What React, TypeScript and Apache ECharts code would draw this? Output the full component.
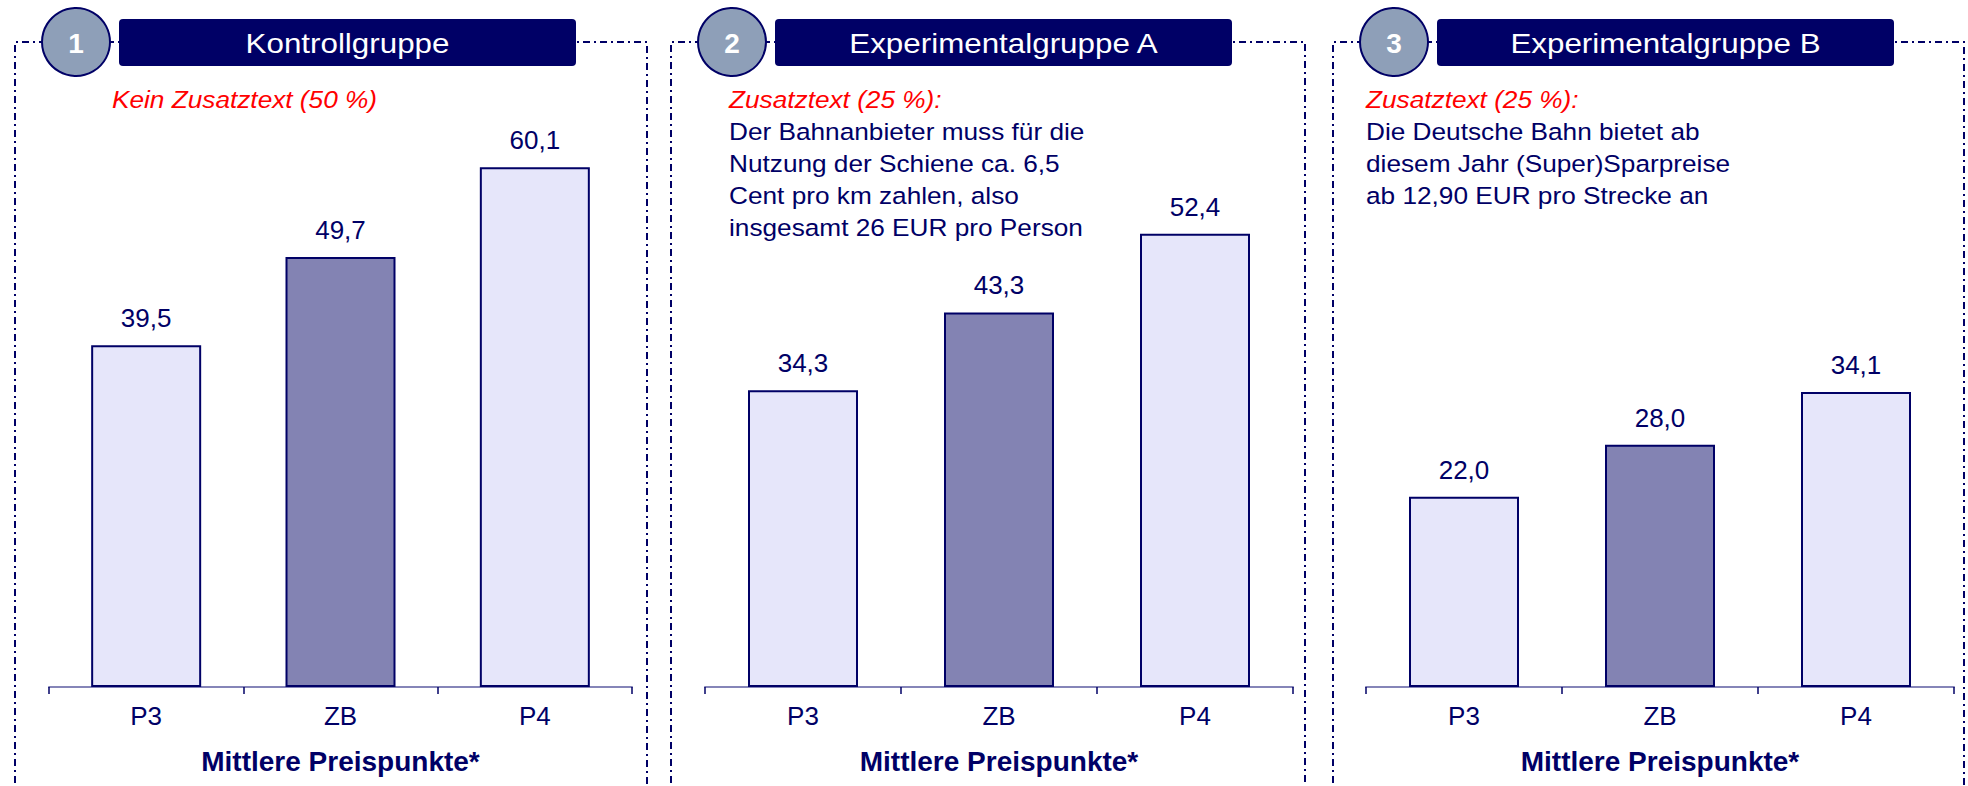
import React, { useEffect, useRef } from "react";
import * as echarts from "echarts";

// ---- data ----
const categories = ["P3", "ZB", "P4"];
const kontrollValues = [39.5, 49.7, 60.1];
const gruppeAValues = [34.3, 43.3, 52.4];
const gruppeBValues = [22.0, 28.0, 34.1];
const panelNumbers = ["1", "2", "3"];
const panelTitles = ["Kontrollgruppe", "Experimentalgruppe A", "Experimentalgruppe B"];
const redNotes = ["Kein Zusatztext (50 %)", "Zusatztext (25 %):", "Zusatztext (25 %):"];
const noteLinesKontroll: string[] = [];
const noteLinesA = [
  "Der Bahnanbieter muss für die",
  "Nutzung der Schiene ca. 6,5",
  "Cent pro km zahlen, also",
  "insgesamt 26 EUR pro Person",
];
const noteLinesB = [
  "Die Deutsche Bahn bietet ab",
  "diesem Jahr (Super)Sparpreise",
  "ab 12,90 EUR pro Strecke an",
];
const axisName = "Mittlere Preispunkte*";
const yMax = 70;

const seriesValues = [kontrollValues, gruppeAValues, gruppeBValues];
const noteLines = [noteLinesKontroll, noteLinesA, noteLinesB];

// ---- styles / layout ----
const NAVY = "#000066";
const RED = "#FF0000";
const LIGHT = "#E6E6FA";
const DARK = "#8383B3";
const CIRCLE = "#8E9FB8";
const AXIS = "#8585B8";
const FONT = "'Liberation Sans', Arial, Helvetica, sans-serif";

const panels = [
  { left: 15, right: 647, gridLeft: 49, gridWidth: 583, noteX: 112 },
  { left: 671, right: 1305, gridLeft: 705, gridWidth: 588, noteX: 729 },
  { left: 1333, right: 1964, gridLeft: 1366, gridWidth: 588, noteX: 1366 },
];
const GRID_TOP = 81.5;
const AXIS_Y = 687;
const TOP_LINE_Y = 42;

function fmt(v: number) {
  return v.toFixed(1).replace(".", ",");
}

export default function App() {
  const ref = useRef<HTMLDivElement>(null);

  useEffect(() => {
    if (!ref.current) return;
    const chart = echarts.init(ref.current, undefined, { renderer: "svg" });

    const grids: any[] = [];
    const xAxes: any[] = [];
    const yAxes: any[] = [];
    const series: any[] = [];
    const elements: any[] = [];

    panels.forEach((p, i) => {
      grids.push({
        left: p.gridLeft,
        top: GRID_TOP,
        width: p.gridWidth,
        height: AXIS_Y - GRID_TOP,
        outerBoundsMode: "none",
        containLabel: false,
      });
      xAxes.push({
        type: "category",
        gridIndex: i,
        data: categories,
        boundaryGap: true,
        name: axisName,
        nameLocation: "middle",
        nameGap: 60,
        nameTextStyle: {
          color: NAVY,
          fontSize: 28,
          fontWeight: "bold",
          fontFamily: FONT,
        },
        axisLine: { show: true, lineStyle: { color: AXIS, width: 2 } },
        axisTick: { show: true, length: 7, lineStyle: { color: NAVY, width: 1.5 } },
        axisLabel: { color: NAVY, fontSize: 26, fontFamily: FONT, margin: 16 },
        splitLine: { show: false },
      });
      yAxes.push({
        type: "value",
        gridIndex: i,
        min: 0,
        max: yMax,
        show: false,
        splitLine: { show: false },
      });
      series.push({
        type: "bar",
        xAxisIndex: i,
        yAxisIndex: i,
        barWidth: 110,
        data: seriesValues[i].map((v, j) => ({
          value: v,
          itemStyle: { color: categories[j] === "ZB" ? DARK : LIGHT },
        })),
        itemStyle: { borderColor: NAVY, borderWidth: 2 },
        label: {
          show: true,
          position: "top",
          distance: 14,
          color: NAVY,
          fontSize: 26,
          fontFamily: FONT,
          formatter: (prm: any) => fmt(prm.value),
        },
        emphasis: { disabled: true },
      });

      // dashed frame
      elements.push({
        type: "polyline",
        z: 1,
        shape: {
          points: [
            [p.left, 800],
            [p.left, TOP_LINE_Y],
            [p.right, TOP_LINE_Y],
            [p.right, 800],
          ],
        },
        style: { stroke: NAVY, lineWidth: 2, fill: "none", lineDash: [7, 4, 2, 4] },
        silent: true,
      });
      // title box
      elements.push({
        type: "rect",
        z: 2,
        shape: { x: p.left + 104, y: 19, width: 457, height: 47, r: 4 },
        style: { fill: NAVY },
        silent: true,
      });
      elements.push({
        type: "text",
        z: 3,
        x: p.left + 104 + 228.5,
        y: 43,
        scaleX: 1.12,
        style: {
          text: panelTitles[i],
          fill: "#FFFFFF",
          fontSize: 28,
          fontFamily: FONT,
          align: "center",
          verticalAlign: "middle",
        },
        silent: true,
      });
      // number circle
      elements.push({
        type: "circle",
        z: 2,
        shape: { cx: p.left + 61, cy: TOP_LINE_Y, r: 34 },
        style: { fill: CIRCLE, stroke: NAVY, lineWidth: 2 },
        silent: true,
      });
      elements.push({
        type: "text",
        z: 3,
        x: p.left + 61,
        y: 43,
        style: {
          text: panelNumbers[i],
          fill: "#FFFFFF",
          fontSize: 28,
          fontWeight: "bold",
          fontFamily: FONT,
          align: "center",
          verticalAlign: "middle",
        },
        silent: true,
      });
      // red note
      elements.push({
        type: "text",
        z: 3,
        x: p.noteX,
        y: 99.5,
        scaleX: 1.07,
        style: {
          text: redNotes[i],
          fill: RED,
          fontSize: 24.5,
          fontStyle: "italic",
          fontFamily: FONT,
          align: "left",
          verticalAlign: "middle",
        },
        silent: true,
      });
      noteLines[i].forEach((line, k) => {
        elements.push({
          type: "text",
          z: 3,
          x: p.noteX,
          y: 131.5 + 32 * k,
          scaleX: 1.07,
          style: {
            text: line,
            fill: NAVY,
            fontSize: 24.5,
            fontFamily: FONT,
            align: "left",
            verticalAlign: "middle",
          },
          silent: true,
        });
      });
    });

    chart.setOption({
      animation: false,
      backgroundColor: "#FFFFFF",
      textStyle: { fontFamily: FONT },
      grid: grids,
      xAxis: xAxes,
      yAxis: yAxes,
      series,
      graphic: { elements },
    });

    return () => chart.dispose();
  }, []);

  return (
    <div
      ref={ref}
      style={{
        position: "fixed",
        left: 0,
        top: 0,
        width: 1968,
        height: 786,
        background: "#FFFFFF",
      }}
    />
  );
}
